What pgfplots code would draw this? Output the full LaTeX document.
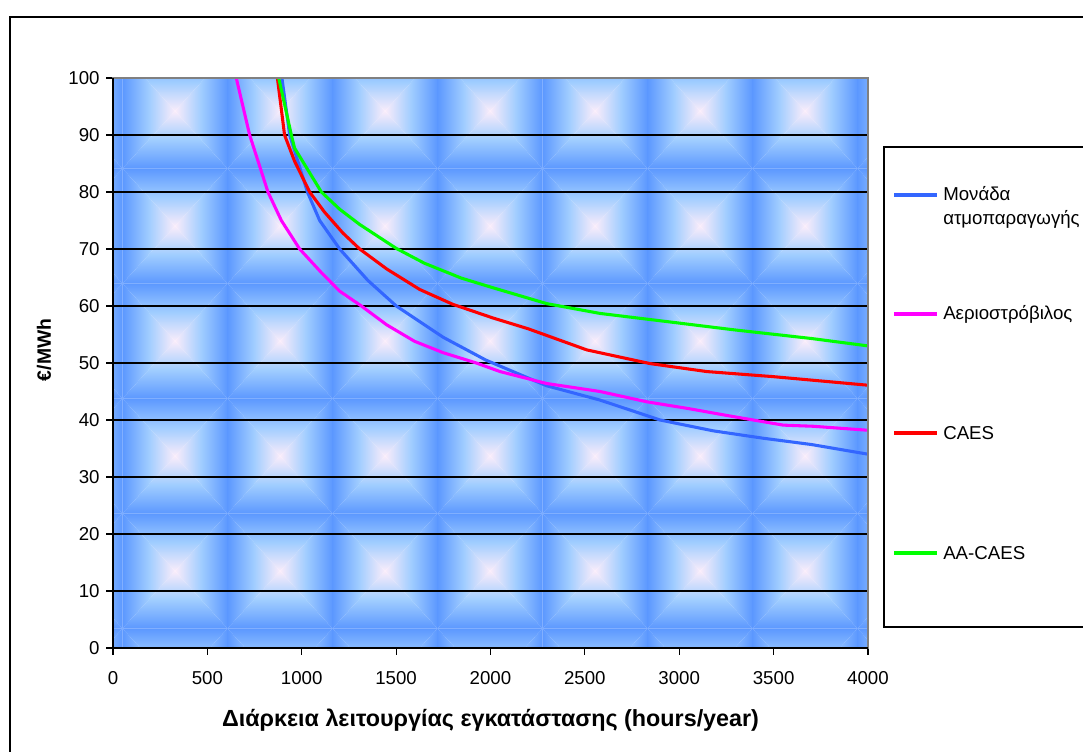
\documentclass[border=0pt]{standalone}
\usepackage{pgfplots}
\pgfplotsset{compat=1.18}
\usepackage{fontspec}
\setmainfont{Liberation Sans}
\definecolor{tedge}{RGB}{92,152,255}
\definecolor{tmid}{RGB}{160,205,255}
\definecolor{tcen}{RGB}{250,236,250}
\definecolor{cblue}{RGB}{51,102,255}
\definecolor{cmag}{RGB}{255,0,255}
\definecolor{cred}{RGB}{255,0,0}
\definecolor{cgreen}{RGB}{0,255,0}
\begin{document}
\begin{tikzpicture}
\useasboundingbox (0,0) rectangle (812.25pt,563.25pt);
% ---- tiled background of the plot area (px coordinates) ----
\begin{scope}[x=0.75pt,y=-0.75pt,shift={(0pt,563.25pt)}]
\clip (113,78) rectangle (868,648);
\foreach \i in {0,...,8}{
 \foreach \j in {0,...,6}{
  \pgfmathsetmacro\xa{17.5+105*\i}
  \pgfmathsetmacro\xb{\xa+105}
  \pgfmathsetmacro\xc{\xa+52.5}
  \pgfmathsetmacro\ya{53.5+115*\j}
  \pgfmathsetmacro\yb{\ya+115}
  \pgfmathsetmacro\yc{\ya+57.5}
  \shade[top color=tedge,bottom color=tcen,middle color=tmid] (\xa,\ya) -- (\xb,\ya) -- (\xc,\yc) -- cycle;
  \shade[top color=tcen,bottom color=tedge,middle color=tmid] (\xa,\yb) -- (\xb,\yb) -- (\xc,\yc) -- cycle;
  \shade[left color=tedge,right color=tcen,middle color=tmid] (\xa,\ya) -- (\xa,\yb) -- (\xc,\yc) -- cycle;
  \shade[left color=tcen,right color=tedge,middle color=tmid] (\xb,\ya) -- (\xb,\yb) -- (\xc,\yc) -- cycle;
 }
}
\end{scope}
\begin{axis}[
  at={(84.75pt,77.25pt)}, anchor=south west,
  width=566.25pt, height=427.5pt, scale only axis,
  xmin=0, xmax=4000, ymin=0, ymax=100,
  xtick={0,500,...,4000}, ytick={0,10,...,100},
  /pgf/number format/1000 sep={},
  /pgf/number format/assume math mode=true,
  ticklabel style={font=\fontsize{14}{16}\selectfont},
  xticklabel style={yshift=-9pt},
  yticklabel style={xshift=-1.5pt},
  xtick pos=bottom, ytick pos=left,
  tick align=outside, major tick length=5pt,
  tick style={black, line width=0.8pt},
  ymajorgrids, grid style={black, line width=1pt},
  axis line style={draw=none},
  xlabel={Διάρκεια λειτουργίας εγκατάστασης (hours/year)},
  xlabel style={font=\fontsize{17.5}{20}\selectfont\bfseries, at={(axis description cs:0.5,-0.126)}, anchor=center},
  ylabel={€/MWh},
  ylabel style={font=\fontsize{14.5}{17}\selectfont\bfseries, at={(axis description cs:-0.0914,0.523)}, anchor=center},
]
\addplot[cblue, line width=2.3pt] coordinates {
 (895,100) (936,90) (1030,80) (1095,75) (1201,70) (1350,64.5) (1501,60) (1750,54.5)
 (1976,50.5) (2298,46) (2580,43.5) (2898,40) (3180,38.1) (3445,36.8) (3700,35.7) (4000,34.0)};
\addplot[cmag, line width=2.3pt] coordinates {
 (653,100) (724,90) (821,80) (892,75) (989,70) (1100,66) (1201,62.6) (1316,60) (1450,56.7)
 (1598,53.8) (1750,51.8) (1925,50) (2050,48.5) (2298,46.4) (2580,45) (2827,43.2) (3050,42.0)
 (3269,40.7) (3551,39.1) (3710,38.9) (4000,38.2)};
\addplot[cred, line width=2.3pt] coordinates {
 (871,100) (909,90) (962,85.4) (1042,80) (1120,76.5) (1218,72.8) (1307,70) (1450,66.5)
 (1625,62.9) (1800,60.3) (2013,57.9) (2200,56) (2510,52.3) (2845,49.9) (3145,48.5) (3500,47.6) (4000,46.1)};
\addplot[cgreen, line width=2.3pt] coordinates {
 (878,100) (945,90) (962,87.7) (1104,80) (1200,77) (1307,74.3) (1501,70.1) (1650,67.5)
 (1845,64.9) (2013,63.2) (2300,60.4) (2580,58.7) (3000,57) (3295,55.8) (3700,54.3) (4000,53.0)};
\end{axis}
\begin{scope}[x=0.75pt,y=-0.75pt,shift={(0pt,563.25pt)}]
 \draw[gray, line width=1.6pt] (113,78) rectangle (868,648);
 \draw[black, line width=1pt] (113,78) -- (113,648) -- (868,648);
 \begin{scope}
 \clip (0,0) rectangle (1083,751);
 \draw[black, line width=1.1pt] (1100,17) -- (10,17) -- (10,770);
 \draw[black, line width=0.9pt, fill=white] (884,147) rectangle (1100,627);
 \end{scope}
 \begin{scope}[font=\fontsize{14}{18}\selectfont]
 \draw[cblue, line width=2.3pt] (894,195) -- (937,195);
 \node[anchor=west, align=left, inner sep=0pt] at (943,207) {Μονάδα\\ατμοπαραγωγής};
 \draw[cmag, line width=2.3pt] (894,314) -- (937,314);
 \node[anchor=west, inner sep=0pt] at (943,314) {Αεριοστρόβιλος};
 \draw[cred, line width=2.3pt] (894,433) -- (937,433);
 \node[anchor=west, inner sep=0pt] at (943,433) {CAES};
 \draw[cgreen, line width=2.3pt] (894,553) -- (937,553);
 \node[anchor=west, inner sep=0pt] at (943,553) {AA-CAES};
 \end{scope}
\end{scope}
\end{tikzpicture}
\end{document}
